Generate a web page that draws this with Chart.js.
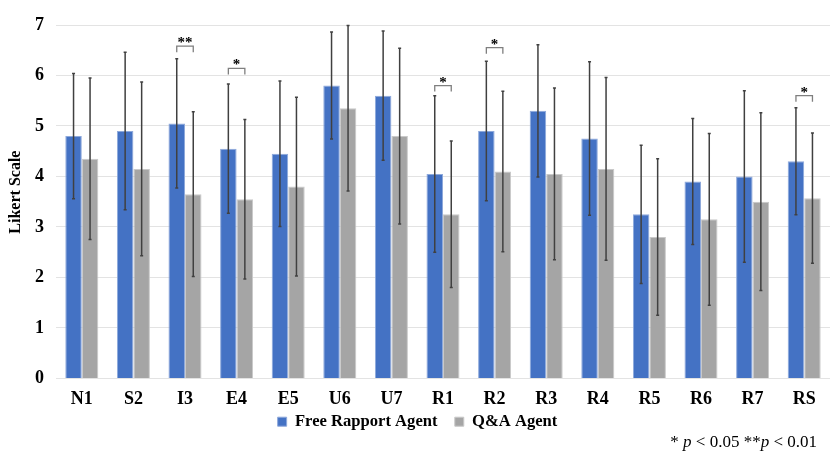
<!DOCTYPE html>
<html>
<head>
<meta charset="utf-8">
<script src="https://cdn.jsdelivr.net/npm/chart.js@4/dist/chart.umd.min.js"></script>
<style>
  html, body { margin: 0; padding: 0; background: #fff; }
  #wrap { position: relative; width: 830px; height: 457px; }
  #note { position: absolute; right: 13px; top: 432px; font: 17px 'Liberation Serif', 'Times New Roman', serif; color: #000; white-space: nowrap; }
</style>
</head>
<body>
<div id="wrap">
  <canvas id="c" width="830" height="457"></canvas>
  <div id="note">* <i>p</i> &lt; 0.05 **<i>p</i> &lt; 0.01</div>
</div>
<script>
const categories = ['N1','S2','I3','E4','E5','U6','U7','R1','R2','R3','R4','R5','R6','R7','RS'];
const freeMeans = [4.8, 4.9, 5.05, 4.55, 4.45, 5.8, 5.6, 4.05, 4.9, 5.3, 4.75, 3.25, 3.9, 4.0, 4.3];
const freeSD    = [1.24, 1.56, 1.28, 1.28, 1.44, 1.06, 1.28, 1.55, 1.38, 1.31, 1.52, 1.37, 1.25, 1.7, 1.06];
const qaMeans   = [4.35, 4.15, 3.65, 3.55, 3.8, 5.35, 4.8, 3.25, 4.1, 4.05, 4.15, 2.8, 3.15, 3.5, 3.57];
const qaSD      = [1.6, 1.72, 1.63, 1.58, 1.77, 1.64, 1.74, 1.45, 1.59, 1.7, 1.81, 1.55, 1.7, 1.76, 1.29];
const sigLabels = ['', '', '**', '*', '', '', '', '*', '*', '', '', '', '', '', '*'];
const sigLevels = [null, null, 6.58, 6.14, null, null, null, 5.8, 6.55, null, null, null, null, null, 5.6];
const yTicks = [0, 1, 2, 3, 4, 5, 6, 7];
const seriesNames = ['Free Rapport Agent', 'Q&A Agent'];

const SERIF = "'Liberation Serif', 'Times New Roman', serif";

const errorBarPlugin = {
  id: 'errorBars',
  afterDatasetsDraw(chart) {
    const ctx = chart.ctx;
    const y = chart.scales.y;
    const sds = [freeSD, qaSD];
    const means = [freeMeans, qaMeans];
    ctx.save();
    ctx.strokeStyle = '#404040';
    ctx.lineWidth = 1.5;
    for (let d = 0; d < 2; d++) {
      const meta = chart.getDatasetMeta(d);
      meta.data.forEach((bar, i) => {
        const x = bar.x;
        const top = y.getPixelForValue(means[d][i] + sds[d][i]);
        const bot = y.getPixelForValue(means[d][i] - sds[d][i]);
        ctx.beginPath();
        ctx.moveTo(x, top); ctx.lineTo(x, bot);
        ctx.moveTo(x - 1.5, top); ctx.lineTo(x + 1.5, top);
        ctx.moveTo(x - 1.5, bot); ctx.lineTo(x + 1.5, bot);
        ctx.stroke();
      });
    }
    const m0 = chart.getDatasetMeta(0), m1 = chart.getDatasetMeta(1);
    ctx.strokeStyle = '#7f7f7f';
    ctx.lineWidth = 1.3;
    ctx.fillStyle = '#000';
    ctx.font = 'bold 15px ' + SERIF;
    ctx.textAlign = 'center';
    ctx.textBaseline = 'alphabetic';
    sigLevels.forEach((lv, i) => {
      if (lv === null) return;
      const x0 = m0.data[i].x, x1 = m1.data[i].x;
      const py = y.getPixelForValue(lv);
      ctx.beginPath();
      ctx.moveTo(x0, py + 6); ctx.lineTo(x0, py); ctx.lineTo(x1, py); ctx.lineTo(x1, py + 6);
      ctx.stroke();
      ctx.fillText(sigLabels[i], (x0 + x1) / 2, py + 1);
    });
    ctx.restore();
  }
};

new Chart(document.getElementById('c'), {
  type: 'bar',
  data: {
    labels: categories,
    datasets: [
      { label: seriesNames[0], data: freeMeans, backgroundColor: '#4472C4', borderColor: '#8EA9DB', borderWidth: 1 },
      { label: seriesNames[1], data: qaMeans, backgroundColor: '#A5A5A5', borderColor: '#C9C9C9', borderWidth: 1 }
    ]
  },
  options: {
    responsive: false,
    animation: false,
    devicePixelRatio: 1,
    layout: { padding: { top: 25, right: 0, left: 5, bottom: 17 } },
    datasets: { bar: { categoryPercentage: 0.64, barPercentage: 1.0 } },
    plugins: {
      legend: {
        position: 'bottom',
        labels: {
          color: '#000',
          font: { family: SERIF, size: 16.6, weight: 'bold' },
          boxWidth: 9, boxHeight: 9, padding: 9,
          generateLabels(chart) {
            const items = Chart.defaults.plugins.legend.labels.generateLabels(chart);
            items.forEach((it, i) => { if (i < items.length - 1) it.text = it.text + '\u2002'; });
            return items;
          }
        }
      },
      tooltip: { enabled: false }
    },
    scales: {
      x: {
        afterFit(scale) { scale.height = 26; },
        grid: { display: false, drawTicks: false },
        border: { display: false },
        ticks: { color: '#000', font: { family: SERIF, size: 18, weight: 'bold' }, padding: 10 }
      },
      y: {
        min: 0, max: 7,
        afterBuildTicks(scale) { scale.ticks = yTicks.map(v => ({ value: v })); },
        afterFit(scale) { scale.width = 51; },
        grid: { color: '#E3E3E3', lineWidth: 1, drawTicks: false },
        border: { display: false },
        ticks: { color: '#000', font: { family: SERIF, size: 18, weight: 'bold' }, padding: 12 },
        title: { display: true, text: '\u2003\u2009Likert Scale', color: '#000', font: { family: SERIF, size: 16, weight: 'bold' }, padding: { top: 1, bottom: 0 } }
      }
    }
  },
  plugins: [errorBarPlugin]
});
</script>
</body>
</html>
